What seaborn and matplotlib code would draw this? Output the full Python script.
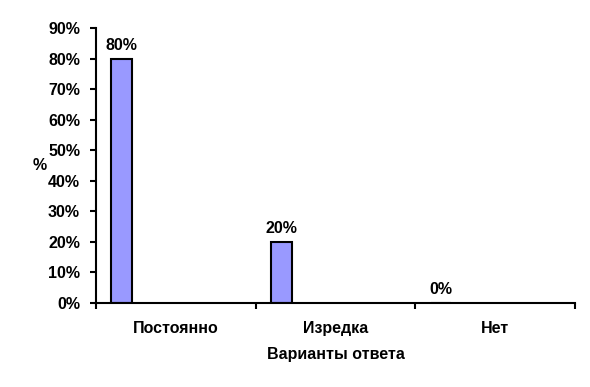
import pandas as pd
import matplotlib.pyplot as plt
import seaborn as sns
from matplotlib.ticker import PercentFormatter, FixedLocator

# Datos del gráfico
categorias = ['Постоянно', 'Изредка', 'Нет']
valores = [0.80, 0.20, 0.0]

df = pd.DataFrame({'variante': categorias, 'porcentaje': valores})

sns.set_style('white')
plt.rcParams['font.family'] = ['Liberation Sans', 'DejaVu Sans']
plt.rcParams['font.weight'] = 'bold'
for clave in ['text.color', 'axes.labelcolor', 'xtick.color', 'ytick.color']:
    plt.rcParams[clave] = 'black'
tam = 11.5

fig = plt.figure(figsize=(5.9, 3.87), dpi=100)
ax = fig.add_axes([0.1627, 0.217, 0.8119, 0.7106])

sns.barplot(data=df, x='variante', y='porcentaje', color='#9999FF',
            saturation=1, width=0.13, edgecolor='black', linewidth=1.5, ax=ax)

# Las barras van a la izquierda de cada categoría (estilo Excel)
for barra in ax.patches:
    barra.set_x(barra.get_x() - 0.34)

ax.bar_label(ax.containers[0], labels=[f'{v:.0%}' for v in valores],
             padding=4, fontsize=tam, fontweight='bold', color='black')

ax.set_xlim(-0.5, 2.5)
ax.set_ylim(0, 0.9)
ax.yaxis.set_major_locator(FixedLocator([i / 10 for i in range(10)]))
ax.yaxis.set_major_formatter(PercentFormatter(1.0, decimals=0))

ax.xaxis.set_minor_locator(FixedLocator([-0.5, 0.5, 1.5, 2.5]))
ax.tick_params(axis='x', which='both', bottom=True)
ax.tick_params(axis='x', which='major', length=0, pad=13, labelsize=tam)
ax.tick_params(axis='x', which='minor', length=4.5, width=1.5, direction='out', color='black')
ax.tick_params(axis='y', left=True, length=4.5, width=1.5, direction='out', color='black', pad=7, labelsize=tam)

for lbl in ax.get_xticklabels() + ax.get_yticklabels():
    lbl.set_fontweight('bold')

sns.despine(ax=ax)
for lado in ['left', 'bottom']:
    ax.spines[lado].set_linewidth(1.5)
    ax.spines[lado].set_color('black')

ax.set_xlabel('Варианты ответа', fontsize=tam, fontweight='bold', labelpad=8)
ax.set_ylabel('%', fontsize=tam, fontweight='bold', rotation=0)
ax.yaxis.set_label_coords(-0.117, 0.5)
ax.yaxis.label.set_verticalalignment('center')

fig.savefig('out.png', dpi=100)
